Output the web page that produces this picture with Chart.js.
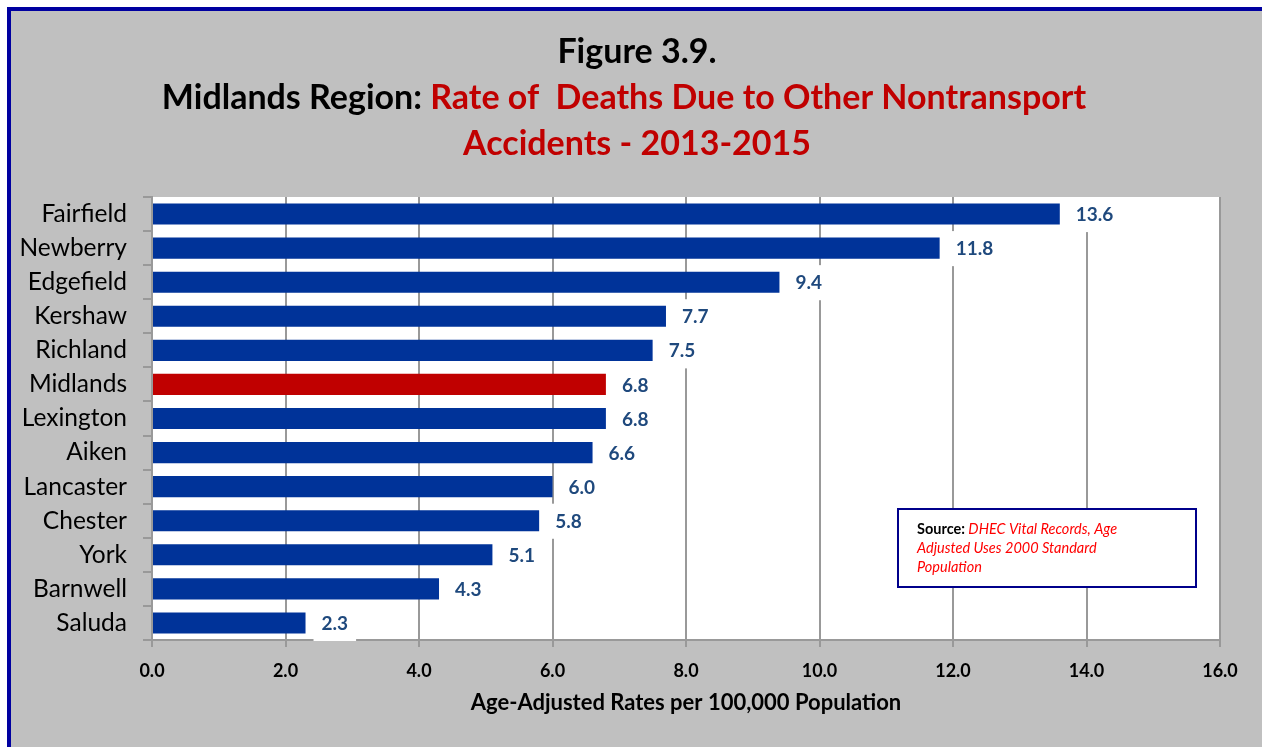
<!DOCTYPE html>
<html>
<head>
<meta charset="utf-8">
<script src="https://cdn.jsdelivr.net/npm/chart.js@4.4.1/dist/chart.umd.min.js"></script>
<style>
  html, body { margin: 0; padding: 0; background: #ffffff; }
  #wrap { width: 1262px; height: 747px; position: relative; }
</style>
</head>
<body>
<div id="wrap"><canvas id="c"></canvas></div>
<script>
// Counties of the Midlands region, highest rate first
const counties = ['Fairfield', 'Newberry', 'Edgefield', 'Kershaw', 'Richland', 'Midlands',
  'Lexington', 'Aiken', 'Lancaster', 'Chester', 'York', 'Barnwell', 'Saluda'];
// Age-adjusted death rates per 100,000 population
const rates = [13.6, 11.8, 9.4, 7.7, 7.5, 6.8, 6.8, 6.6, 6.0, 5.8, 5.1, 4.3, 2.3];
// The regional total is drawn in red
const regionName = 'Midlands';
// Rate axis
const rateMin = 0;
const rateMax = 16;
const rateStep = 2;

const titleLine1 = 'Figure 3.9.';
const titleLine2a = 'Midlands Region: ';
const titleLine2b = 'Rate of  Deaths Due to Other Nontransport';
const titleLine3 = 'Accidents - 2013-2015';
const axisTitle = 'Age-Adjusted Rates per 100,000 Population';
const sourceLabel = 'Source:';
const sourceLines = [' DHEC Vital Records, Age', 'Adjusted Uses 2000 Standard', 'Population'];

const FONT = 'Lato, "Open Sans", sans-serif';
const BLUE = '#003399';
const RED = '#c00000';
const GRID = '#999999';

const barColors = counties.map(c => c === regionName ? RED : BLUE);

// Page frame, grey panel and white plot area
const framePlugin = {
  id: 'frame',
  beforeDraw(chart) {
    const ctx = chart.ctx;
    const a = chart.chartArea;
    ctx.save();
    ctx.fillStyle = '#ffffff';
    ctx.fillRect(0, 0, chart.width, chart.height);
    ctx.fillStyle = '#c0c0c0';
    ctx.fillRect(7, 7, chart.width - 7, chart.height - 7);
    ctx.strokeStyle = '#0000a0';
    ctx.lineWidth = 4;
    ctx.beginPath();
    ctx.moveTo(9, chart.height + 5);
    ctx.lineTo(9, 9);
    ctx.lineTo(chart.width + 5, 9);
    ctx.stroke();
    ctx.fillStyle = '#ffffff';
    ctx.fillRect(a.left, a.top, a.right - a.left, a.bottom - a.top);
    ctx.restore();
  }
};

// Three-line heading with a two-colour middle line
const headingPlugin = {
  id: 'heading',
  afterDraw(chart) {
    const ctx = chart.ctx;
    ctx.save();
    ctx.textBaseline = 'alphabetic';
    ctx.font = 'bold 34px ' + FONT;
    ctx.textAlign = 'center';
    ctx.fillStyle = '#000000';
    ctx.fillText(titleLine1, 637, 63);
    ctx.textAlign = 'left';
    const wA = ctx.measureText(titleLine2a).width;
    const wB = ctx.measureText(titleLine2b).width;
    let x = 624 - (wA + wB) / 2;
    ctx.fillText(titleLine2a, x, 109);
    ctx.fillStyle = RED;
    ctx.fillText(titleLine2b, x + wA, 109);
    ctx.textAlign = 'center';
    ctx.fillText(titleLine3, 637, 155);
    ctx.restore();
  }
};

// Value labels on white boxes just past each bar end
const valueLabelPlugin = {
  id: 'valueLabels',
  afterDraw(chart) {
    const ctx = chart.ctx;
    const meta = chart.getDatasetMeta(0);
    const yScale = chart.scales.y;
    const band = (yScale.bottom - yScale.top) / counties.length;
    ctx.save();
    ctx.font = 'bold 19px ' + FONT;
    ctx.textBaseline = 'middle';
    ctx.textAlign = 'left';
    meta.data.forEach((bar, i) => {
      const txt = rates[i].toFixed(1);
      const w = ctx.measureText(txt).width;
      const bx = bar.x + 8;
      ctx.fillStyle = '#ffffff';
      ctx.fillRect(bx, bar.y - band / 2, w + 16, band + 1);
      ctx.fillStyle = '#1f497d';
      ctx.fillText(txt, bx + 8, bar.y + 1);
    });
    ctx.restore();
  }
};

// Source note box inside the plot
const sourcePlugin = {
  id: 'sourceNote',
  afterDraw(chart) {
    const ctx = chart.ctx;
    ctx.save();
    ctx.fillStyle = '#ffffff';
    ctx.fillRect(898, 509, 298, 78);
    ctx.strokeStyle = '#00008b';
    ctx.lineWidth = 2;
    ctx.strokeRect(898, 509, 298, 78);
    ctx.textBaseline = 'alphabetic';
    ctx.textAlign = 'left';
    ctx.font = 'bold 14.5px ' + FONT;
    ctx.fillStyle = '#000000';
    ctx.fillText(sourceLabel, 917, 534);
    const wS = ctx.measureText(sourceLabel).width;
    ctx.font = 'italic 14.5px ' + FONT;
    ctx.fillStyle = '#ff0000';
    ctx.fillText(sourceLines[0], 917 + wS, 534);
    ctx.fillText(sourceLines[1], 917, 553);
    ctx.fillText(sourceLines[2], 917, 572);
    ctx.restore();
  }
};

new Chart(document.getElementById('c'), {
  type: 'bar',
  data: {
    labels: counties,
    datasets: [{
      data: rates,
      backgroundColor: barColors,
      borderWidth: 0,
      categoryPercentage: 1.0,
      barPercentage: 0.62
    }]
  },
  options: {
    indexAxis: 'y',
    responsive: true,
    maintainAspectRatio: false,
    animation: false,
    devicePixelRatio: 1,
    layout: { padding: { top: 197, right: 42, left: 0, bottom: 0 } },
    plugins: {
      legend: { display: false },
      title: { display: false },
      tooltip: { enabled: false }
    },
    scales: {
      x: {
        type: 'linear',
        min: rateMin,
        max: rateMax,
        ticks: {
          stepSize: rateStep,
          color: '#000000',
          font: { family: FONT, size: 18, weight: 'bold' },
          padding: 13,
          callback: v => Number(v).toFixed(1)
        },
        grid: { color: GRID, lineWidth: 2, tickLength: 7 },
        border: { display: true, color: GRID, width: 2 },
        title: {
          display: true,
          text: axisTitle,
          color: '#000000',
          font: { family: FONT, size: 22, weight: 'bold' },
          padding: { top: 0, bottom: 31 }
        },
        afterFit(scale) { scale.height = 107; }
      },
      y: {
        type: 'category',
        ticks: {
          color: '#000000',
          font: { family: FONT, size: 24.5 },
          padding: 16
        },
        grid: { drawOnChartArea: false, color: GRID, lineWidth: 2, tickLength: 9, offset: true },
        border: { display: true, color: GRID, width: 2 },
        afterFit(scale) { scale.width = 152; }
      }
    }
  },
  plugins: [framePlugin, headingPlugin, valueLabelPlugin, sourcePlugin]
});
</script>
</body>
</html>
